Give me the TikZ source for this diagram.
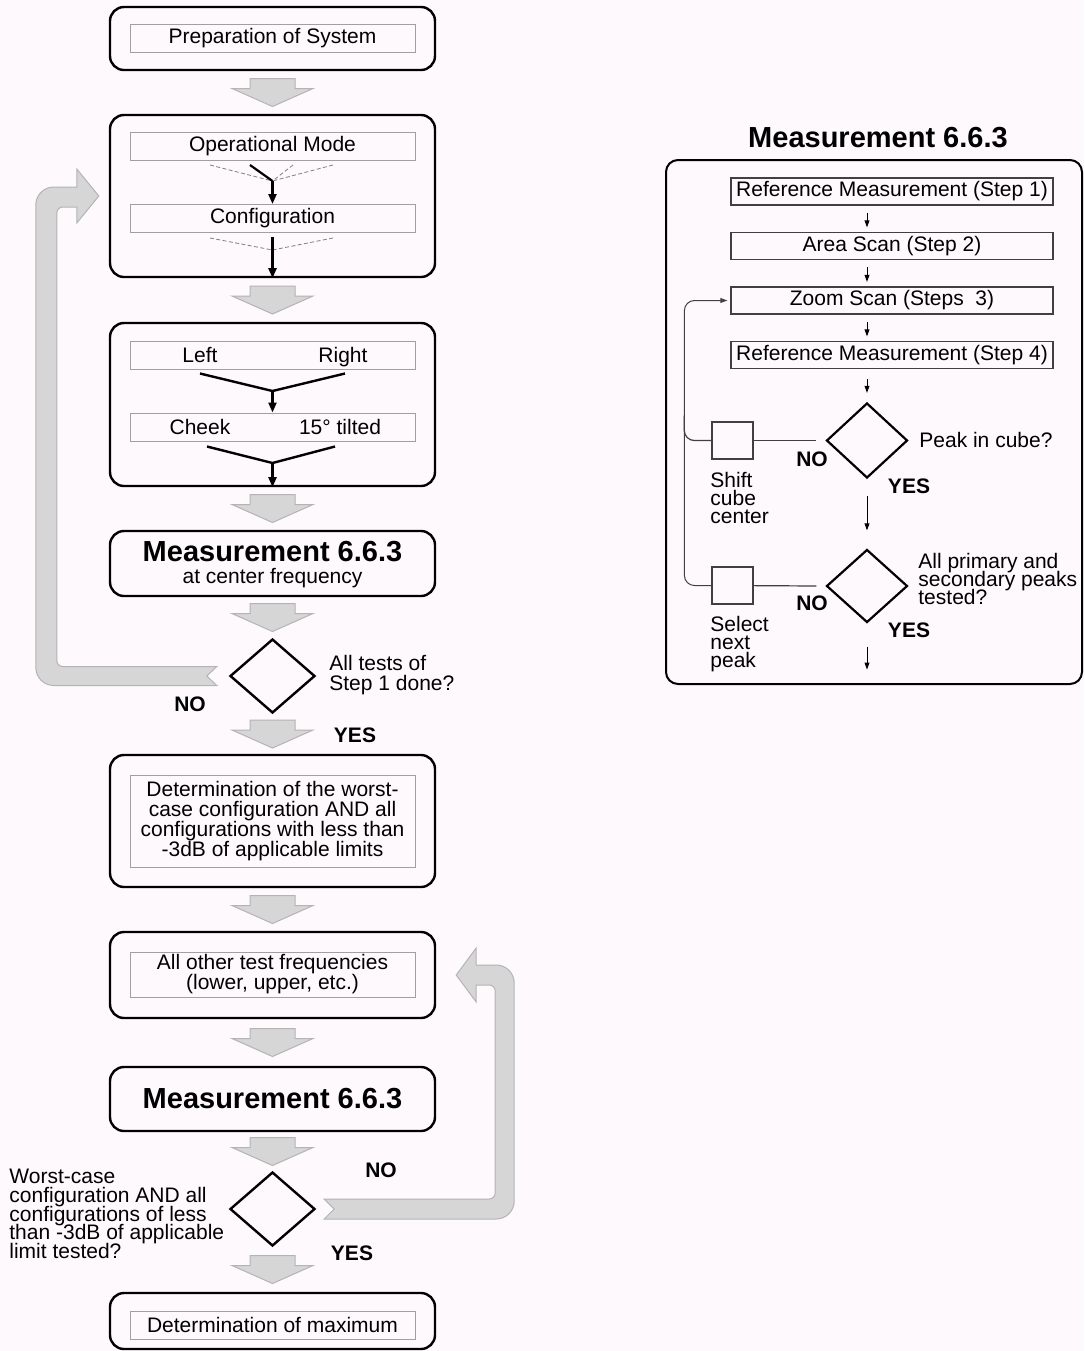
\documentclass[tikz,border=0pt]{standalone}
\usepackage{fontspec}
\setmainfont{Liberation Sans}
\usepackage{tikz}
\usetikzlibrary{shapes,arrows.meta,positioning,calc}

\definecolor{paper}{RGB}{253,249,253}
\definecolor{blockfill}{RGB}{214,214,214}
\definecolor{blockline}{RGB}{180,180,180}
\definecolor{innerline}{RGB}{160,160,160}

\setlength{\lineskiplimit}{-20pt}
\newcommand{\titlefont}{\fontsize{14.5}{16}\selectfont\bfseries}
% big gray arrow between two boxes
\newcommand{\grayarrow}[2]{%
  \path ($(#1.south)!0.5!(#2.north)$) coordinate (ga);
  \draw[grayblock] ($(ga)+(-22.5,-14)$) -- ++(45,0) -- ++(0,10) -- ++(18,0)
    -- ++(-40.5,18) -- ++(-40.5,-18) -- ++(18,0) -- cycle;}

\begin{document}
\begin{tikzpicture}[x=0.5pt,y=-0.5pt,
    every node/.style={inner sep=0pt, font=\fontsize{10.5}{10}\selectfont},
    outerbox/.style={draw, line width=1.2pt, rounded corners=7pt, minimum width=162.5pt},
    innerbox/.style={draw=innerline, line width=0.5pt, minimum width=142.5pt, minimum height=14pt, align=center},
    stepbox/.style={draw=black!75, line width=0.6pt, minimum width=161pt, minimum height=13.5pt},
    decision/.style={draw, diamond, line width=1.2pt, minimum width=42.5pt, minimum height=37pt},
    cubebox/.style={draw=black!75, line width=0.7pt, minimum width=20.5pt, minimum height=18.5pt},
    grayblock/.style={fill=blockfill, draw=blockline, line width=0.5pt},
    flow/.style={line width=1.1pt, -{Triangle[length=5pt,width=4pt]}},
    dashline/.style={draw=gray, line width=0.4pt, dash pattern=on 2pt off 1.2pt},
    smallarrow/.style={line width=0.5pt, -{Triangle[length=3.5pt,width=2.4pt]}},
    thinline/.style={draw=black!75, line width=0.6pt},
    yesno/.style={font=\fontsize{10.5}{10}\selectfont\bfseries}]

    \fill[paper] (0,0) rectangle (1084,1351);
    \useasboundingbox (0,0) rectangle (1084,1351);

    % left column
    \node[outerbox, minimum height=31.5pt] (prep) at (272.5,38.5) {};
    \node[innerbox] (prepin) at (272.5,38.5) {Preparation of System};

    \node[outerbox, minimum height=81pt] (mode) at (272.5,196) {};
    \node[innerbox] (opmode) at (272.5,146.5) {Operational Mode};
    \node[innerbox] (config) at (272.5,218.5) {Configuration};
    \coordinate (opjoin) at (272.5,181);
    \coordinate (cfjoin) at (272.5,250);
    \foreach \dx in {-62.5,20.5,60.5}
        \draw[dashline] ($(opmode.south)+(\dx,4)$) -- (opjoin);
    \draw[line width=1.1pt] ($(opmode.south)+(-22.5,4)$) -- (opjoin);
    \draw[flow] (opjoin) -- (config.north);
    \foreach \dx in {-62.5,60.5}
        \draw[dashline] ($(config.south)+(\dx,5)$) -- (cfjoin);
    \draw[flow] ($(config.south)+(0,4)$) -- (mode.south);

    \node[outerbox, minimum height=81.5pt] (side) at (272.5,404.5) {};
    \node[innerbox] (lr) at (272.5,355) {};
    \node[anchor=base] (left) at (200,362) {Left};
    \node[anchor=base] (right) at (343,362) {Right};
    \node[innerbox] (pos) at (272.5,427) {};
    \node[anchor=base] (cheek) at (200,434) {Cheek};
    \node[anchor=base] (tilt) at (340,434) {15° tilted};
    \coordinate (lrjoin) at (272.5,391);
    \coordinate (posjoin) at (272.5,463);
    \draw[line width=1.2pt] ($(lr.south -| left)+(0,4)$) -- (lrjoin) -- ($(lr.south -| right)+(2,4)$);
    \draw[flow] (lrjoin) -- (pos.north);
    \draw[line width=1.2pt] ($(pos.south -| cheek)+(7,5)$) -- (posjoin) -- ($(pos.south -| tilt)+(-5,5)$);
    \draw[flow] (posjoin) -- (side.south);

    \node[outerbox, minimum height=32.5pt] (meas1) at (272.5,563.5) {};
    \node[font=\titlefont] (meas1t) at (272.5,552) {Measurement 6.6.3};
    \node (meas1s) at (272.5,578.5) {at center frequency};

    \node[decision] (test1) at (272.5,676) {};
    \node[anchor=west, align=left] (test1q) at (329,675) {All tests of\\Step 1 done?};
    \node[yesno] (no1) at (190,704) {NO};
    \node[yesno] (yes1) at (355,735) {YES};

    \node[outerbox, minimum height=66pt] (worst) at (272.5,821) {};
    \node[innerbox, minimum height=46pt] (worstin) at (272.5,821) {Determination of the worst-\\case configuration AND all\\configurations with less than\\-3dB of applicable limits};

    \node[outerbox, minimum height=43pt] (freq) at (272.5,975) {};
    \node[innerbox, minimum height=22.5pt] (freqin) at (272.5,974.5) {All other test frequencies\\(lower, upper, etc.)};

    \node[outerbox, minimum height=32pt, font=\titlefont] (meas2) at (272.5,1099) {Measurement 6.6.3};

    \node[decision] (test2) at (272.5,1209) {};
    \node[anchor=north west, align=left, font=\fontsize{10.5}{9.3}\selectfont] (test2q) at (9,1169) {Worst-case\\configuration AND all\\configurations of less\\than -3dB of applicable\\limit tested?};
    \node[yesno] (no2) at (381,1170) {NO};
    \node[yesno] (yes2) at (352,1253) {YES};

    \node[outerbox, minimum height=28pt] (max) at (272.5,1321) {};
    \node[innerbox] (maxin) at (272.5,1325) {Determination of maximum};

    \grayarrow{prep}{mode}
    \grayarrow{mode}{side}
    \grayarrow{side}{meas1}
    \grayarrow{meas1}{test1}
    \grayarrow{test1}{worst}
    \grayarrow{worst}{freq}
    \grayarrow{freq}{meas2}
    \grayarrow{meas2}{test2}
    \grayarrow{test2}{max}

    % NO: back to the mode box
    \coordinate (noend) at ($(test1.west)+(-12,0)$);
    \coordinate (notip) at ($(mode.west)+(-10,0)$);
    \draw[grayblock] ($(noend)+(0,-9.5)$) [rounded corners=3pt] -| ($(notip)+(-42,11)$) -- ++(10,0) [sharp corners] -- ++(10,0) -- ++(0,16) -- (notip) -- ++(-22,-27) -- ++(0,18) -- ++(-10,0) [rounded corners=9pt] -- ++(-31,0) |- ($(noend)+(-100,9.5)$) [sharp corners] -- ($(noend)+(0,9.5)$) -- ($(noend)+(-10,0)$) -- cycle;

    % NO: back to the frequency box
    \coordinate (noend2) at ($(test2.east)+(8,0)$);
    \coordinate (notip2) at ($(freq.east)+(20,0)$);
    \draw[grayblock] ($(noend2)+(0,-10)$) [rounded corners=3pt] -| ($(notip2)+(39,10)$) -- ++(-10,0) [sharp corners] -- ++(-9,0) -- ++(0,17) -- (notip2) -- ++(20,-27) -- ++(0,17) -- ++(10,0) [rounded corners=9pt] -- ++(28,0) |- ($(noend2)+(100,10)$) [sharp corners] -- ($(noend2)+(0,10)$) -- ($(noend2)+(10,0)$) -- cycle;

    % right panel
    \node[font=\titlefont] (rtitle) at (878,138) {Measurement 6.6.3};
    \node[draw, line width=1pt, rounded corners=6pt, minimum width=208pt, minimum height=262pt] (panel) at (874,422) {};

    \node[stepbox] (step1) at (892,191.5) {Reference Measurement (Step 1)};
    \node[stepbox] (step2) at (892,246) {Area Scan (Step 2)};
    \node[stepbox] (step3) at (892,300.5) {Zoom Scan (Steps~ 3)};
    \node[stepbox] (step4) at (892,355) {Reference Measurement (Step 4)};

    \node[decision, line width=1.1pt, minimum width=40.5pt, minimum height=37.5pt] (peak) at (867,440.5) {};
    \node[decision, line width=1.1pt, minimum width=40.5pt, minimum height=36.5pt] (alltested) at (867,586) {};
    \node[cubebox] (shift) at (732.5,440.5) {};
    \node[cubebox] (select) at (732.5,585.5) {};

    \foreach \a/\b in {step1/step2,step2/step3,step3/step4}
        \draw[smallarrow] ($(\a.south -| peak)+(0,7)$) -- ($(\b.north -| peak)+(0,-4.5)$);
    \draw[smallarrow] ($(step4.south -| peak)+(0,10)$) -- ($(peak.north)+(0,-9)$);
    \draw[smallarrow] ($(peak.south)+(0,17)$) -- ($(alltested.north)+(0,-18)$);
    \coordinate (panelout) at ($(alltested.south)+(0,46)$);
    \draw[smallarrow] ($(alltested.south)+(0,23)$) -- (panelout);

    \draw[thinline] (shift) -- ($(peak.west)+(-9,0)$);
    \draw[thinline] (select) -- ($(alltested.west)+(-9,0)$);
    \draw[smallarrow, draw=black!75, rounded corners=5pt] (select.west) -| ($(step3.west)+(-46,0)$) -- ($(step3.west)+(-3,0)$);
    \draw[thinline, rounded corners=5pt] (shift.west) -| ($(shift.west)+(-27,-25)$);

    \node[anchor=west] (peakq) at (919,440) {Peak in cube?};
    \node[yesno] (no3) at (812,459) {NO};
    \node[yesno] (yes3) at (909,486) {YES};
    \node[anchor=north west, align=left, font=\fontsize{10.5}{9}\selectfont] (shiftt) at (710,472) {Shift\\cube\\center};
    \node[anchor=west, align=left, font=\fontsize{10.5}{9.2}\selectfont] (allq) at (918,579) {All primary and\\secondary peaks\\tested?};
    \node[yesno] (no4) at (812,603) {NO};
    \node[yesno] (yes4) at (909,630) {YES};
    \node[anchor=north west, align=left, font=\fontsize{10.5}{9}\selectfont] (selt) at (710,616) {Select\\next\\peak};
\end{tikzpicture}
\end{document}
